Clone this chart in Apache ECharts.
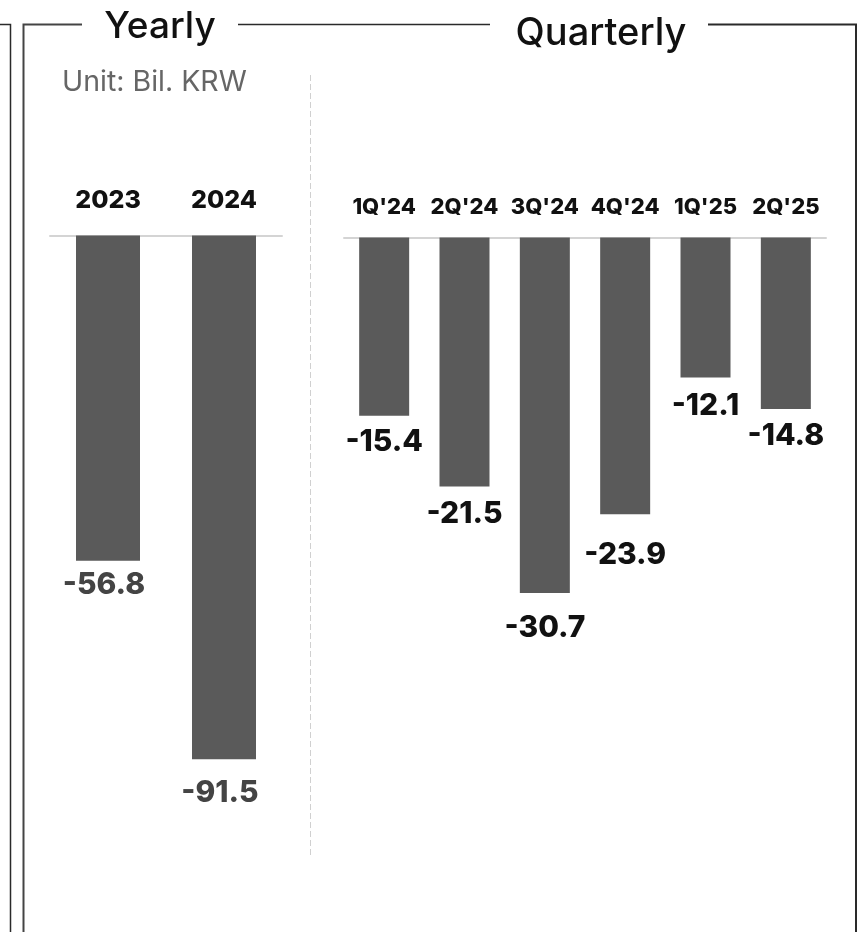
<!DOCTYPE html>
<html>
<head>
<meta charset="utf-8">
<script src="https://cdn.jsdelivr.net/npm/echarts@6/dist/echarts.min.js"></script>
<style>
  html, body { margin: 0; padding: 0; background: #fff; }
  #chart { width: 866px; height: 932px; }
</style>
</head>
<body>
<div id="chart"></div>
<script>
// Operating loss, unit: billion KRW
const yearlyCategories = ['2023', '2024'];
const yearlyValues = [-56.8, -91.5];

const quarterlyCategories = ["1Q'24", "2Q'24", "3Q'24", "4Q'24", "1Q'25", "2Q'25"];
const quarterlyValues = [-15.4, -21.5, -30.7, -23.9, -12.1, -14.8];

// Gap between each bar end and its value label (px)
const yearlyLabelGap = [9, 19];
const quarterlyLabelGap = [11, 13, 20, 26, 13, 12];

const FONT = 'Inter, "Noto Sans", sans-serif';
const BAR_COLOR = '#5a5a5a';
const FRAME = '#2a2a2a';

const chart = echarts.init(document.getElementById('chart'), null, { renderer: 'canvas' });

function barData(values, gaps, color, offsetX) {
  return values.map((v, i) => ({
    value: v,
    label: { distance: gaps[i], color: color, offset: [offsetX, 0] }
  }));
}

const option = {
  backgroundColor: '#fff',
  animation: false,
  grid: [
    { left: 50, width: 232, top: 235.5, height: 572.5 },
    { left: 344, width: 482, top: 237.5, height: 579 }
  ],
  xAxis: [
    {
      type: 'category', gridIndex: 0, position: 'top',
      data: yearlyCategories,
      axisLine: { show: true, lineStyle: { color: '#d4d4d4', width: 2 } },
      axisTick: { show: false },
      axisLabel: { interval: 0, margin: 23, fontFamily: FONT, fontSize: 25, fontWeight: 800, color: '#111' }
    },
    {
      type: 'category', gridIndex: 1, position: 'top',
      data: quarterlyCategories,
      axisLine: { show: true, lineStyle: { color: '#d4d4d4', width: 2 } },
      axisTick: { show: false },
      axisLabel: { interval: 0, hideOverlap: false, margin: 19, fontFamily: FONT, fontSize: 22, fontWeight: 800, color: '#111' }
    }
  ],
  yAxis: [
    { type: 'value', gridIndex: 0, min: -100, max: 0, show: false },
    { type: 'value', gridIndex: 1, min: -50, max: 0, show: false }
  ],
  series: [
    {
      type: 'bar', xAxisIndex: 0, yAxisIndex: 0,
      barWidth: 64,
      itemStyle: { color: BAR_COLOR },
      label: {
        show: true, position: 'bottom',
        fontFamily: FONT, fontSize: 30, fontWeight: 800
      },
      data: barData(yearlyValues, yearlyLabelGap, '#444', -4)
    },
    {
      type: 'bar', xAxisIndex: 1, yAxisIndex: 1,
      barWidth: 50,
      itemStyle: { color: BAR_COLOR },
      label: {
        show: true, position: 'bottom',
        fontFamily: FONT, fontSize: 30, fontWeight: 800
      },
      data: barData(quarterlyValues, quarterlyLabelGap, '#111', 0)
    }
  ],
  graphic: [
    // edge of the neighbouring panel
    { type: 'polyline', shape: { points: [[0, 24.5], [10.5, 24.5], [10.5, 932]] },
      style: { stroke: FRAME, lineWidth: 1.5, fill: null } },
    // frame of this panel, broken by the two headings
    { type: 'polyline', shape: { points: [[82, 24.5], [23.5, 24.5], [23.5, 932]] },
      style: { stroke: '#444', lineWidth: 2, fill: null } },
    { type: 'line', shape: { x1: 238, y1: 24.5, x2: 490, y2: 24.5 },
      style: { stroke: FRAME, lineWidth: 1.5 } },
    { type: 'polyline', shape: { points: [[708, 24.5], [856, 24.5], [856, 932]] },
      style: { stroke: FRAME, lineWidth: 2, fill: null } },
    // headings
    { type: 'text', x: 160, y: 27,
      style: { text: 'Yearly', font: '500 37px ' + FONT, fill: '#111', align: 'center', verticalAlign: 'middle' } },
    { type: 'text', x: 601, y: 34,
      style: { text: 'Quarterly', font: '500 38px ' + FONT, fill: '#111', align: 'center', verticalAlign: 'middle' } },
    // unit note
    { type: 'text', x: 62, y: 82,
      style: { text: 'Unit: Bil. KRW', font: '28.5px ' + FONT, fill: '#666', align: 'left', verticalAlign: 'middle' } },
    // divider between the two panels
    { type: 'line', shape: { x1: 310.5, y1: 75, x2: 310.5, y2: 855 },
      style: { stroke: '#d0d0d0', lineWidth: 1, lineDash: [6, 3] } }
  ]
};

chart.setOption(option);
</script>
</body>
</html>
